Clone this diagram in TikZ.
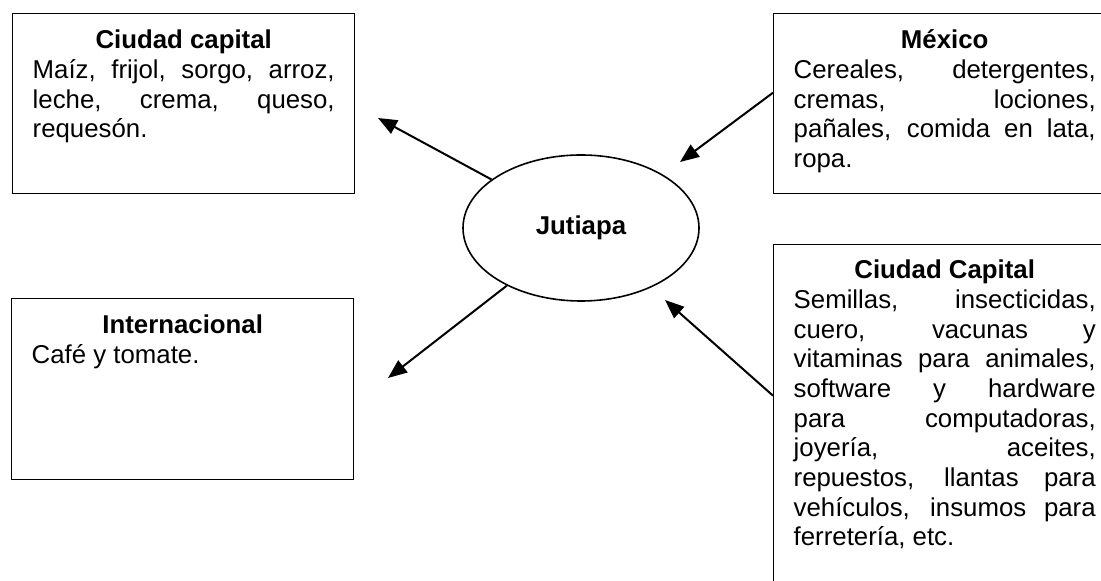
\documentclass[tikz,border=0pt]{standalone}
\usepackage{fontspec}
\setmainfont{Liberation Sans}
\usetikzlibrary{arrows.meta,shapes.geometric,positioning}
\hyphenpenalty=10000
\tolerance=10000
\hbadness=10000

\begin{document}
\begin{tikzpicture}[x=0.5pt,y=-0.5pt,>={Triangle[length=9.5pt,width=7.5pt]},line width=1pt,
		font=\fontsize{12.9pt}{14.85pt}\selectfont,
		region/.style={draw,line width=0.7pt,anchor=north west,text width=151pt,align=justify,inner xsep=10pt,inner ysep=0pt,text height=17.5pt},
		town/.style={ellipse,draw,line width=0.8pt,minimum width=118pt,minimum height=73pt,font=\fontsize{12.9pt}{14.85pt}\selectfont\bfseries}]
		\useasboundingbox (0,0) rectangle (1101,581);
		\node[town] (jutiapa) at (581,228) {Jutiapa};
		% sales
		\node[region,text depth=72.5pt] (capital) at (12,13) {{\centering\bfseries Ciudad capital\par}Maíz, frijol, sorgo, arroz,\linebreak leche, crema, queso,\linebreak requesón.};
		\node[region,text depth=73pt] (inter) at (11,298) {{\centering\bfseries Internacional\par}Café y tomate.};
		% purchases
		\node[region,text depth=72.5pt] (mexico) at (773,13) {{\centering\bfseries México\par}Cereales, detergentes,\linebreak cremas, lociones,\linebreak pañales, comida en lata,\linebreak ropa.};
		\node[region,text height=17pt,text depth=170pt] (capital_in) at (773,244) {{\centering\bfseries Ciudad Capital\par}Semillas, insecticidas,\linebreak cuero, vacunas y\linebreak vitaminas para animales,\linebreak software y hardware\linebreak para computadoras,\linebreak joyería, aceites,\linebreak repuestos, llantas para\linebreak vehículos, insumos para\linebreak ferretería, etc.};
		\coordinate (to_capital) at (378,118);
		\coordinate (to_inter) at (388,378);
		\coordinate (from_mexico) at (680,162);
		\coordinate (from_capital) at (665,300);
		\path[->]
			(jutiapa) edge (to_capital)
			(jutiapa) edge (to_inter)
			([yshift=5.5pt]mexico.west) edge (from_mexico)
			([yshift=18pt]capital_in.west) edge (from_capital);
	\end{tikzpicture}
\end{document}
